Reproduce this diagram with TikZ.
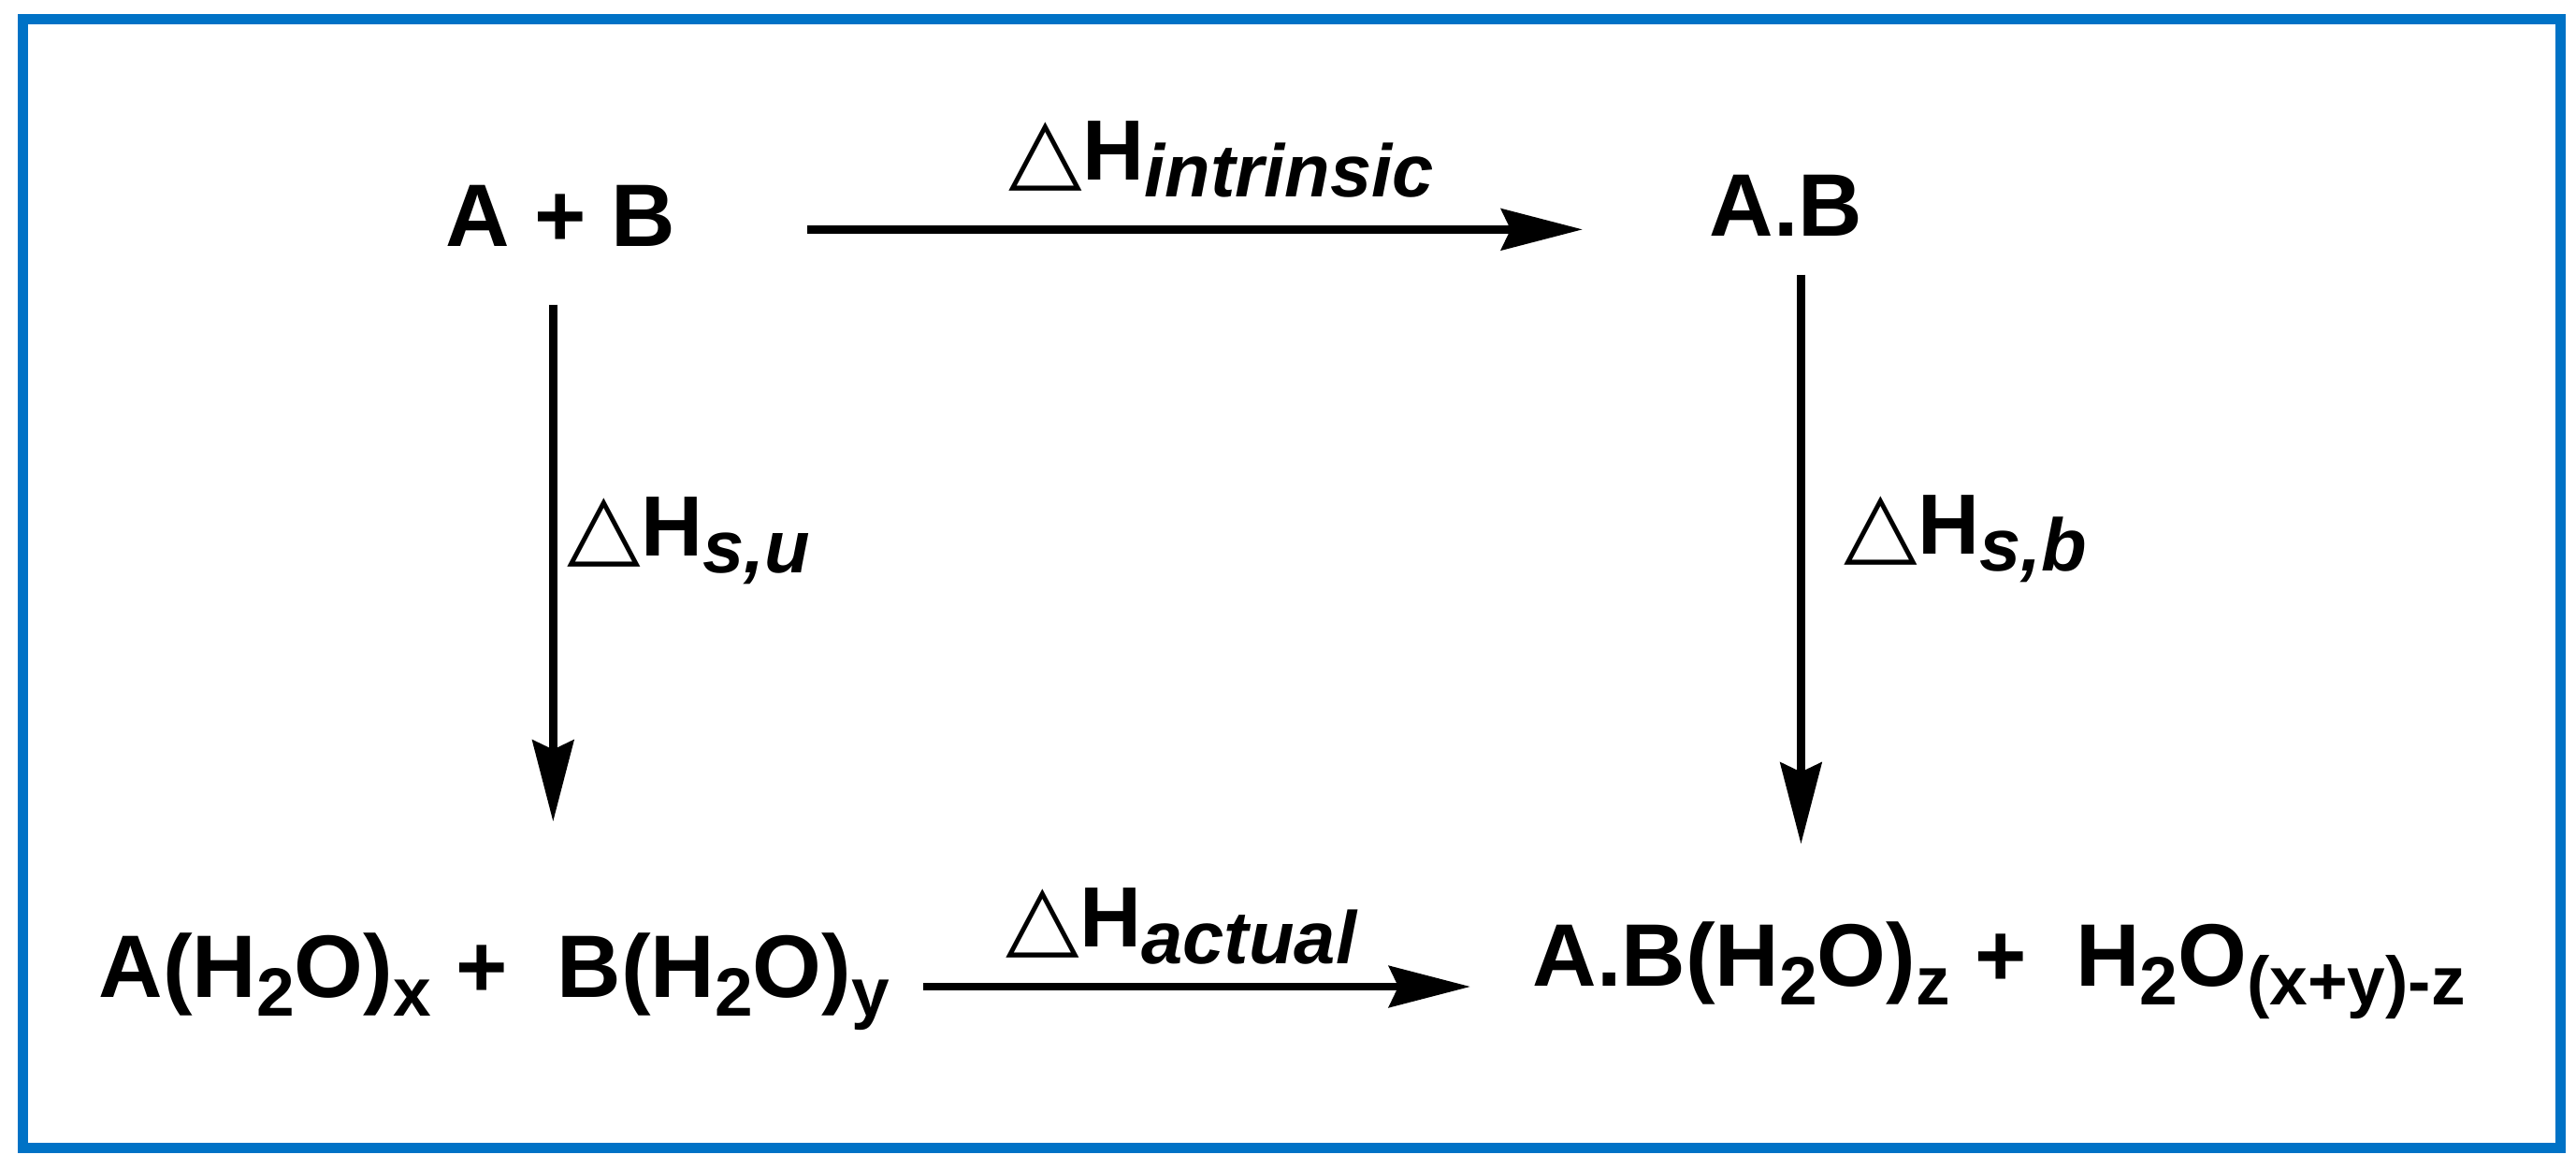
\documentclass[tikz,border=0pt]{standalone}
\usepackage{fontspec}
\setmainfont{Liberation Sans}
\newfontfamily\symf{DejaVu Sans}
\usepackage{tikz}
\usetikzlibrary{arrows.meta,positioning,calc}
\definecolor{frameblue}{RGB}{0,114,198}
\makeatletter
\newcommand\sub[1]{\raisebox{-.22em}{\fontsize{.77\dimexpr\f@size pt\relax}{0pt}\selectfont #1}}
\newcommand\lsub[1]{\raisebox{-.2em}{\fontsize{.87\dimexpr\f@size pt\relax}{0pt}\selectfont\itshape #1}}
\makeatother
\newcommand\dlt{\scalebox{1.12}[1.05]{\symf\symbol{"25B3}}}

\begin{document}
\begin{tikzpicture}[
      chem/.style={inner sep=0pt, anchor=base west,
                   font=\fontsize{27}{32}\selectfont\bfseries},
      lbl/.style={inner sep=0pt, anchor=base west,
                  font=\fontsize{26}{31}\selectfont\bfseries},
      arr/.style={-{Stealth[length=8.7mm, width=4.4mm, inset=1mm]},
                  line width=0.85mm},
      frame/.style={draw=frameblue, line width=1.1mm},
    ]
      \useasboundingbox (0,0) rectangle (27.54,-12.49);
      \draw[frame] (0.245,-0.205) rectangle (27.37,-12.275);
      % species
      \node[chem] (apb) at (4.76,-2.63) {A + B};
      \node[chem] (ab) at (18.27,-2.52) {A.B};
      \node[chem] (lft) at (1.05,-10.66)
            {A(H\sub{2}O)\sub{x} +~ B(H\sub{2}O)\sub{y}};
      \node[chem] (rgt) at (16.38,-10.54)
            {A.B(H\sub{2}O)\sub{z} +~ H\sub{2}O\sub{(x+y)-z}};
      % enthalpy labels
      \node[lbl] (dhint) at (10.78,-1.92) {\dlt H\lsub{intrinsic}};
      \node[lbl] (dhsu) at (6.06,-5.94) {\dlt H\lsub{s,u}};
      \node[lbl] (dhsb) at (19.71,-5.92) {\dlt H\lsub{s,b}};
      \node[lbl] (dhact) at (10.75,-10.12) {\dlt H\lsub{actual}};
      % cycle
      \draw[arr, shorten <=14mm, shorten >=13.5mm]
            ([yshift=-1.5mm]apb.east) -- ([yshift=-1.5mm]apb.east -| ab.west);
      \draw[arr, shorten <=6.2mm, shorten >=11.8mm]
            ([xshift=-.8mm]apb.south) -- ([xshift=-.8mm]apb.south |- lft.north);
      \draw[arr, shorten <=4.1mm, shorten >=8.2mm]
            ([xshift=1.6mm]ab.south) -- ([xshift=1.6mm]ab.south |- rgt.north);
      \draw[arr, shorten <=3.5mm, shorten >=6.6mm]
            ([yshift=1.1mm]lft.base east) -- ([yshift=1.1mm]lft.base east -| rgt.west);
    \end{tikzpicture}
\end{document}
